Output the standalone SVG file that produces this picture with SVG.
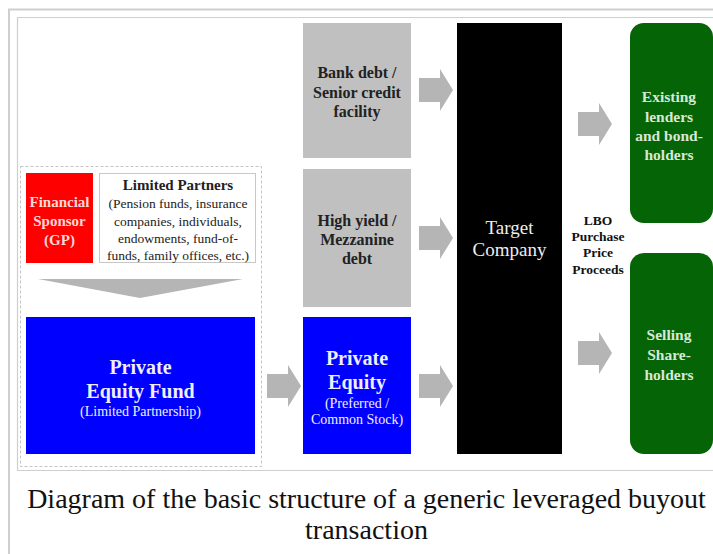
<svg xmlns="http://www.w3.org/2000/svg" width="713" height="554" viewBox="0 0 713 554">
<style>
.t{font-family:"Liberation Serif","Times New Roman",serif;text-anchor:middle}
.b{font-weight:bold}
.frame{fill:none;stroke:#cfcfcf}
.arr{fill:#b5b5b5}
</style>
<defs>
<path id="ra" d="M0,9 H21 V0 L34,21 L21,42 V33 H0 Z"/>
</defs>
<rect width="713" height="554" fill="#fff"/>
<path class="frame" stroke-width="2" d="M9,554 V9.5 H713"/>
<path class="frame" stroke-width="1.2" d="M713,17.5 H17.5 V470.5 H713"/>

<g id="lp-group">
<rect x="20.5" y="166.5" width="241" height="300" fill="none" stroke="#c4c4c4" stroke-dasharray="3,2"/>
</g>
<g id="sponsor">
<rect x="26" y="173" width="67" height="90" fill="#ff0000"/>
<text class="t b" fill="#ffd8d8" font-size="15"><tspan x="59.5" y="207">Financial</tspan><tspan x="59.5" y="226">Sponsor</tspan><tspan x="59.5" y="245">(GP)</tspan></text>
</g>
<g id="limited-partners">
<rect x="99.5" y="173.5" width="156" height="89" fill="#fff" stroke="#c8c8c8"/>
<text class="t" fill="#222" font-size="13.5"><tspan class="b" font-size="15" x="178" y="190">Limited Partners</tspan><tspan x="178" y="208">(Pension funds, insurance</tspan><tspan x="178" y="226">companies, individuals,</tspan><tspan x="178" y="243">endowments, fund-of-</tspan><tspan x="178" y="260">funds, family offices, etc.)</tspan></text>
</g>
<g id="pe-fund">
<rect x="26" y="317" width="229" height="137" fill="#0000ff"/>
<text class="t" fill="#eef"><tspan class="b" font-size="20" x="140.5" y="374">Private</tspan><tspan class="b" font-size="20" x="140.5" y="398">Equity Fund</tspan><tspan font-size="14" x="140.5" y="416">(Limited Partnership)</tspan></text>
</g>
<g id="bank-debt">
<rect x="303" y="23" width="108" height="135" fill="#c0c0c0"/>
<text class="t b" fill="#222" font-size="16"><tspan x="357" y="78">Bank debt /</tspan><tspan x="357" y="98">Senior credit</tspan><tspan x="357" y="117">facility</tspan></text>
</g>
<g id="high-yield">
<rect x="303" y="169" width="108" height="138" fill="#c0c0c0"/>
<text class="t b" fill="#222" font-size="16"><tspan x="357" y="226">High yield /</tspan><tspan x="357" y="245">Mezzanine</tspan><tspan x="357" y="264">debt</tspan></text>
</g>
<g id="private-equity">
<rect x="303" y="317" width="108" height="137" fill="#0000ff"/>
<text class="t" fill="#eef"><tspan class="b" font-size="20" x="357" y="365">Private</tspan><tspan class="b" font-size="20" x="357" y="389">Equity</tspan><tspan font-size="14" x="357" y="408">(Preferred /</tspan><tspan font-size="14" x="357" y="424">Common Stock)</tspan></text>
</g>
<g id="target">
<rect x="457" y="23" width="105" height="431" fill="#000"/>
<text class="t" fill="#eee" font-size="19"><tspan x="509.5" y="234">Target</tspan><tspan x="509.5" y="256">Company</tspan></text>
</g>
<g id="lbo-label">
<text class="t b" fill="#111" font-size="13.5"><tspan x="598" y="224.5">LBO</tspan><tspan x="598" y="240.5">Purchase</tspan><tspan x="598" y="256.5">Price</tspan><tspan x="598" y="273.5">Proceeds</tspan></text>
</g>
<g id="existing-lenders">
<rect x="630" y="23" width="83" height="200" rx="14" fill="#056405"/>
<text class="t b" fill="#d8e8d8" font-size="15.5"><tspan x="669" y="102">Existing</tspan><tspan x="669" y="122">lenders</tspan><tspan x="669" y="141">and bond-</tspan><tspan x="669" y="160">holders</tspan></text>
</g>
<g id="selling-shareholders">
<rect x="630" y="253" width="83" height="201" rx="14" fill="#056405"/>
<text class="t b" fill="#d8e8d8" font-size="15.5"><tspan x="669" y="340">Selling</tspan><tspan x="669" y="360">Share-</tspan><tspan x="669" y="380">holders</tspan></text>
</g>

<g id="connectors" class="arr">
<polygon points="38,279 243,279 140,298"/>
<use href="#ra" x="267" y="365"/>
<use href="#ra" x="419" y="69"/>
<use href="#ra" x="419" y="217"/>
<use href="#ra" x="419" y="365"/>
<use href="#ra" x="578" y="103"/>
<use href="#ra" x="578" y="332"/>
</g>

<g id="caption">
<text class="t" fill="#111" font-size="28"><tspan x="366.5" y="508">Diagram of the basic structure of a generic leveraged buyout</tspan><tspan x="366.5" y="539">transaction</tspan></text>
</g>
</svg>
